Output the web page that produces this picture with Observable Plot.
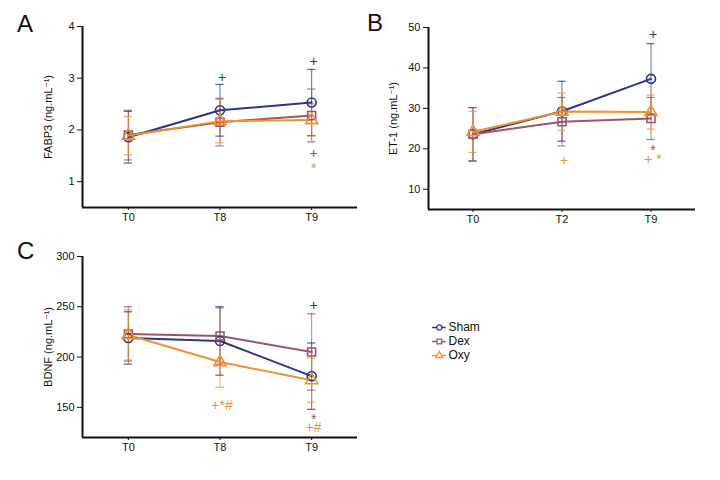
<!DOCTYPE html>
<html><head><meta charset="utf-8">
<script src="https://cdn.jsdelivr.net/npm/d3@7"></script>
<script src="https://cdn.jsdelivr.net/npm/@observablehq/plot@0.6"></script>
<style>
body{margin:0;background:#fff;}
#root{position:relative;width:720px;height:480px;font-family:"Liberation Sans Narrow","Liberation Sans","DejaVu Sans",sans-serif;font-stretch:condensed;color:#111;}
#root svg, #root svg text{font-stretch:condensed;}
.panel{position:absolute;}
.letter{position:absolute;font-size:24px;line-height:1;}
</style></head><body><div id="root"></div>
<script>
const seriesNames = ["Sham", "Dex", "Oxy"];
const seriesColors = ["#2e3486", "#9a5569", "#f0922e"];
const seriesSymbols = ["circle", "square", "triangle"];

// Panel A: FABP3
const catsA = ["T0", "T8", "T9"];
const shamA = [1.86, 2.38, 2.53], shamA_sd = [0.50, 0.50, 0.64];
const dexA  = [1.90, 2.15, 2.28], dexA_sd  = [0.48, 0.46, 0.51];
const oxyA  = [1.89, 2.17, 2.19], oxyA_sd  = [0.37, 0.42, 0.31];
const sigA = [
  {series: "Sham", i: 1, v: 3.01, t: "+"},
  {series: "Sham", i: 2, v: 3.33, t: "+"},
  {series: "Dex",  i: 2, v: 1.55, t: "+"},
  {series: "Oxy",  i: 2, v: 1.32, t: "*"}
];

// Panel B: ET-1
const catsB = ["T0", "T2", "T9"];
const shamB = [23.6, 29.3, 37.3], shamB_sd = [6.6, 7.4, 8.7];
const dexB  = [23.6, 26.7, 27.5], dexB_sd  = [6.6, 6.0, 5.2];
const oxyB  = [24.2, 29.2, 29.1], oxyB_sd  = [5.1, 4.6, 4.2];
const sigB = [
  {series: "Oxy",  i: 1, v: 17.2, t: "+"},
  {series: "Sham", i: 2, v: 48.3, t: "+"},
  {series: "Dex",  i: 2, v: 20.4, t: "*"},
  {series: "Oxy",  i: 2, v: 17.4, t: "+ *"}
];

// Panel C: BDNF
const catsC = ["T0", "T8", "T9"];
const shamC = [219, 216, 181], shamC_sd = [26, 34, 33];
const dexC  = [223, 221, 205], dexC_sd  = [27, 28, 38];
const oxyC  = [222, 195, 177], oxyC_sd  = [25, 25, 22];
const sigC = [
  {series: "Oxy",  i: 1, v: 152.3, t: "+*#"},
  {series: "Sham", i: 2, v: 251.7, t: "+"},
  {series: "Dex",  i: 2, v: 140.5, t: "*"},
  {series: "Oxy",  i: 2, v: 129.5, t: "+#"}
];

const FONT = '"Liberation Sans Narrow","Liberation Sans","DejaVu Sans",sans-serif';

function rowsOf(means, sds) {
  const rows = [];
  seriesNames.forEach((s, k) => {
    means[k].forEach((m, i) => rows.push({series: s, i, mean: m, sd: sds[k][i]}));
  });
  return rows;
}

function panel(cfg) {
  const rows = rowsOf(cfg.means, cfg.sds);
  const cap = 0.045;
  const starOnly = cfg.sig.filter(d => d.t === "*");
  const others = cfg.sig.filter(d => d.t !== "*");
  return Plot.plot({
    width: 360, height: 240,
    marginLeft: cfg.ml, marginRight: cfg.mr, marginTop: cfg.mt, marginBottom: cfg.mb,
    style: {fontFamily: FONT, fontSize: "11px", color: "#111", background: "transparent"},
    x: {domain: [-0.5, 2.5], ticks: [0, 1, 2], tickFormat: i => cfg.cats[i], tickSize: 3, tickPadding: 3, label: null},
    y: {domain: cfg.domain, ticks: cfg.ticks, tickFormat: d => String(d), tickSize: 5, tickPadding: 3,
        label: cfg.label, labelAnchor: "center", labelOffset: cfg.lo, labelArrow: "none"},
    color: {domain: seriesNames, range: seriesColors},
    symbol: {domain: seriesNames, range: seriesSymbols},
    marks: [
      Plot.ruleX(rows, {x: "i", y1: d => d.mean - d.sd, y2: d => d.mean + d.sd, stroke: "series", strokeWidth: 1, strokeOpacity: 0.75}),
      Plot.ruleY(rows, {y: d => d.mean + d.sd, x1: d => d.i - cap, x2: d => d.i + cap, stroke: "series", strokeWidth: 1.2, strokeOpacity: 0.8}),
      Plot.ruleY(rows, {y: d => d.mean - d.sd, x1: d => d.i - cap, x2: d => d.i + cap, stroke: "series", strokeWidth: 1.2, strokeOpacity: 0.8}),
      Plot.line(rows, {x: "i", y: "mean", z: "series", stroke: "series", strokeWidth: 2}),
      Plot.dot(rows, {x: "i", y: "mean", stroke: "series", symbol: "series", r: 4.5, strokeWidth: 1.6, fill: "none"}),
      Plot.text(others, {x: "i", y: "v", text: "t", fill: "series", fontSize: 14, dx: 2}),
      Plot.text(starOnly, {x: "i", y: "v", text: "t", fill: "series", fontSize: 14, dx: 2, dy: 3}),
      Plot.ruleY([cfg.domain[0]], {stroke: "#111", strokeWidth: 2}),
      Plot.ruleX([-0.5], {stroke: "#111", strokeWidth: 2})
    ]
  });
}

const root = document.getElementById("root");
function place(node, left, top) {
  const d = document.createElement("div");
  d.className = "panel";
  d.style.left = left + "px"; d.style.top = top + "px";
  d.appendChild(node); root.appendChild(d);
}
function letter(t, left, top) {
  const d = document.createElement("div");
  d.className = "letter"; d.textContent = t;
  d.style.left = left + "px"; d.style.top = top + "px";
  root.appendChild(d);
}

place(panel({cats: catsA, means: [shamA, dexA, oxyA], sds: [shamA_sd, dexA_sd, oxyA_sd], sig: sigA,
  domain: [0.5, 4], ticks: [1, 2, 3, 4], label: "FABP3 (ng.mL⁻¹)", lo: 38,
  ml: 82, mr: 3, mt: 26, mb: 33}), 0, 0);
place(panel({cats: catsB, means: [shamB, dexB, oxyB], sds: [shamB_sd, dexB_sd, oxyB_sd], sig: sigB,
  domain: [5, 50], ticks: [10, 20, 30, 40, 50], label: "ET-1 (ng.mL⁻¹)", lo: 39,
  ml: 68, mr: 25, mt: 27, mb: 31}), 360, 0);
place(panel({cats: catsC, means: [shamC, dexC, oxyC], sds: [shamC_sd, dexC_sd, oxyC_sd], sig: sigC,
  domain: [120, 300], ticks: [150, 200, 250, 300], label: "BDNF (ng.mL⁻¹)", lo: 38,
  ml: 82, mr: 3, mt: 16, mb: 43}), 0, 240);

// Legend
const legend = Plot.plot({
  width: 80, height: 48, marginTop: 10, marginBottom: 10, marginLeft: 0, marginRight: 0,
  style: {fontFamily: FONT, fontSize: "12px", color: "#111", background: "transparent"},
  x: {domain: [0, 1], axis: null},
  y: {domain: seriesNames, type: "point", padding: 0, axis: null},
  color: {domain: seriesNames, range: seriesColors},
  symbol: {domain: seriesNames, range: seriesSymbols},
  marks: [
    Plot.ruleY(seriesNames, {y: d => d, x1: 0, x2: 0.17, stroke: d => d, strokeWidth: 1.5}),
    Plot.dot(seriesNames, {y: d => d, x: 0.085, stroke: d => d, symbol: d => d, r: 2.6, strokeWidth: 1.3, fill: "white"}),
    Plot.text(seriesNames, {y: d => d, x: 0.2, text: d => d, textAnchor: "start", fill: "#111"})
  ]
});
place(legend, 432, 317);

letter("A", 17, 12);
letter("B", 367, 11);
letter("C", 17, 239);
</script></body></html>
